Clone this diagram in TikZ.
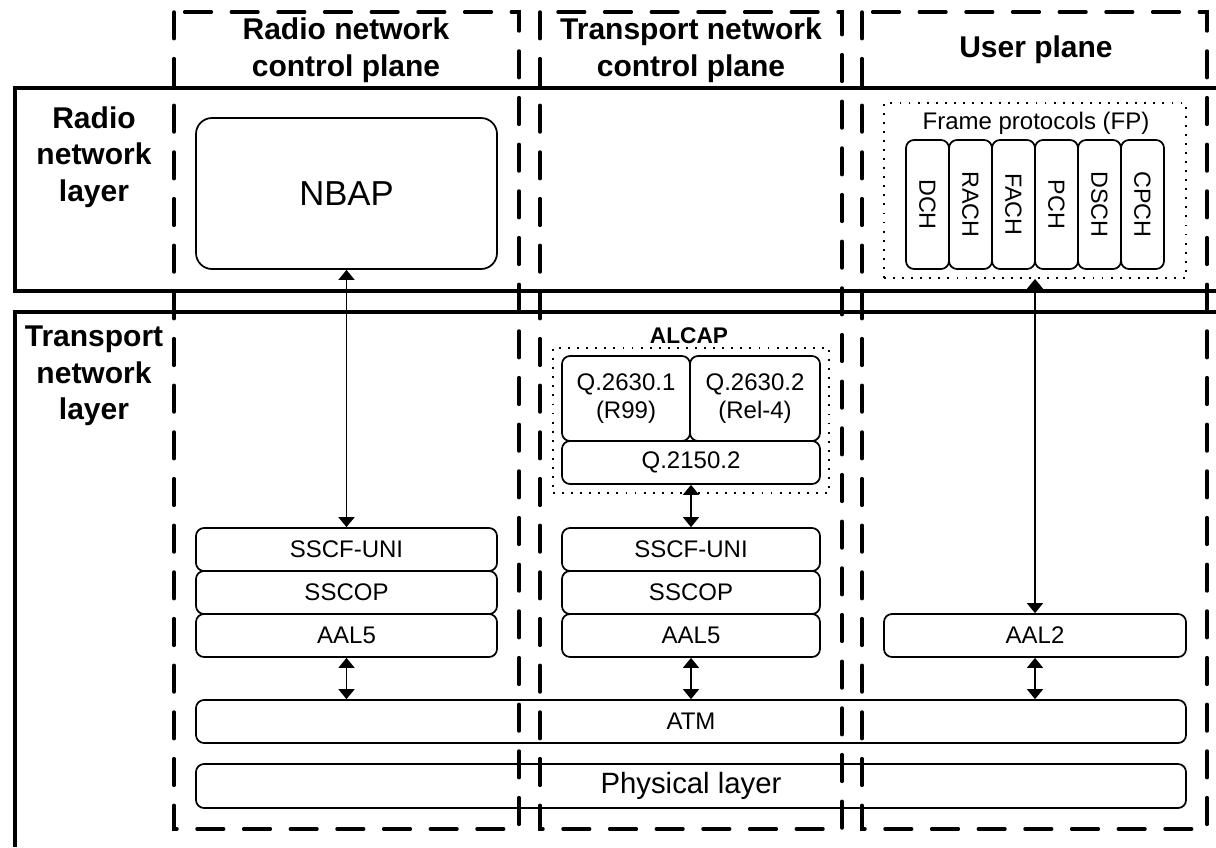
\documentclass[tikz,border=0pt]{standalone}
\usepackage{fontspec}
\setmainfont{Liberation Sans}
\usetikzlibrary{arrows.meta}
\tikzset{>={Triangle[width=12pt,length=7.5pt]}}
\tikzset{
  plane/.style={line width=2.6pt, line cap=round, dash pattern=on 20pt off 15pt},
  layer/.style={line width=2.5pt},
  proto/.style={draw, line width=1.3pt, rounded corners=6pt, inner sep=0pt, align=center, font=\fontsize{18}{21}\selectfont},
  chan/.style={proto, rotate=-90, minimum width=96.75pt, minimum height=32.25pt, font=\fontsize{17.5}{21}\selectfont},
  group/.style={draw, line width=1.4pt, dash pattern=on 1.4pt off 5.4pt, inner sep=0pt},
  title/.style={align=center, font=\bfseries\fontsize{22.5}{27.5}\selectfont},
  link/.style={<->, line width=1.1pt},
}

\begin{document}
\begin{tikzpicture}[x=0.75pt, y=-0.75pt]
  \useasboundingbox (0,0) rectangle (1216,847);

  % layers
  \draw[layer] (1216,88) -- (15,88) -- (15,291) -- (1216,291);
  \draw[layer] (1216,312) -- (15,312) -- (15,847);
  \node[title] (RNL) at (94,157) {Radio\\network\\layer};
  \node[title] (TNL) at (94,376) {Transport\\network\\layer};

  % planes
  \draw[plane] (174,12) rectangle (519,829);
  \draw[plane] (540,12) rectangle (842,829);
  \draw[plane] (862,12) rectangle (1207,829);
  \node[title] (RNCP) at (346,50) {Radio network\\control plane};
  \node[title] (TNCP) at (691,50) {Transport network\\control plane};
  \node[title] (UP) at (1036,50) {User plane};

  % radio network control plane
  \node[proto, rounded corners=12pt, minimum width=225.75pt, minimum height=113.25pt, font=\fontsize{26}{30}\selectfont] (NBAP) at (346.5,193.5) {NBAP};
  \node[proto, minimum width=225.75pt, minimum height=32.25pt] (SSCFA) at (346.5,549.5) {SSCF-UNI};
  \node[proto, minimum width=225.75pt, minimum height=32.25pt] (SSCOPA) at (346.5,592.5) {SSCOP};
  \node[proto, minimum width=225.75pt, minimum height=32.25pt] (AALA) at (346.5,635.5) {AAL5};

  % transport network control plane
  \node[group, minimum width=207pt, minimum height=108.75pt] (ALCAP) at (691,420.5) {};
  \node[font=\bfseries\fontsize{17}{20}\selectfont] (ALCAPT) at (689,336) {ALCAP};
  \node[proto, minimum width=96pt, minimum height=63.75pt] (QA) at (626,398.5) {Q.2630.1\\(R99)};
  \node[proto, minimum width=97.5pt, minimum height=63.75pt] (QB) at (755,398.5) {Q.2630.2\\(Rel-4)};
  \node[proto, minimum width=193.5pt, minimum height=32.25pt] (QC) at (691,462.5) {Q.2150.2};
  \node[proto, minimum width=193.5pt, minimum height=32.25pt] (SSCFB) at (691,549.5) {SSCF-UNI};
  \node[proto, minimum width=193.5pt, minimum height=32.25pt] (SSCOPB) at (691,592.5) {SSCOP};
  \node[proto, minimum width=193.5pt, minimum height=32.25pt] (AALB) at (691,635.5) {AAL5};

  % user plane
  \node[group, minimum width=226.5pt, minimum height=131.25pt] (FP) at (1035,190.5) {};
  \node[font=\fontsize{18}{21}\selectfont] (FPT) at (1036,123) {Frame protocols (FP)};
  \node[chan] (DCH) at (927.5,204.5) {DCH};
  \node[chan] (RACH) at (970.5,204.5) {RACH};
  \node[chan] (FACH) at (1013.5,204.5) {FACH};
  \node[chan] (PCH) at (1056.5,204.5) {PCH};
  \node[chan] (DSCH) at (1099.5,204.5) {DSCH};
  \node[chan] (CPCH) at (1142.5,204.5) {CPCH};
  \node[proto, minimum width=226.5pt, minimum height=32.25pt] (AAL2) at (1035,635.5) {AAL2};

  % common
  \node[proto, minimum width=742.5pt, minimum height=32.25pt] (ATM) at (691,721.5) {ATM};
  \node[proto, minimum width=742.5pt, minimum height=33pt, font=\fontsize{22}{26}\selectfont] (PHY) at (691,786) {Physical layer};

  \draw[link] (NBAP) -- (SSCFA);
  \draw[link] (QC) -- (SSCFB);
  \draw[link] (FP.south) -- (AAL2.north);
  \draw[link] (AALA.south) -- (AALA.south |- ATM.north);
  \draw[link] (AALB.south) -- (AALB.south |- ATM.north);
  \draw[link] (AAL2.south) -- (AAL2.south |- ATM.north);
\end{tikzpicture}
\end{document}
